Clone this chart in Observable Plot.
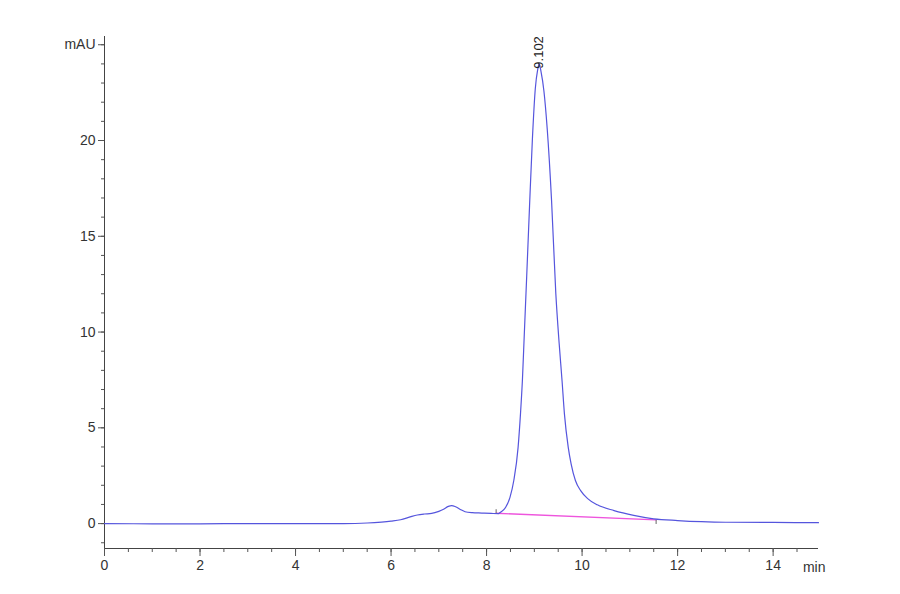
<!DOCTYPE html>
<html>
<head>
<meta charset="utf-8">
<script src="https://cdn.jsdelivr.net/npm/d3@7"></script>
<script src="https://cdn.jsdelivr.net/npm/@observablehq/plot@0.6"></script>
<style>
  html, body { margin: 0; padding: 0; background: #fff; }
  #chart svg { display: block; }
</style>
</head>
<body>
<div id="chart"></div>
<script>
// Chromatogram signal (time in min, absorbance in mAU)
const times = [0, 1, 2, 3, 4, 5, 5.5, 5.8, 6.0, 6.2, 6.4, 6.55, 6.7, 6.85, 7.0, 7.1, 7.2, 7.27, 7.35, 7.45, 7.55, 7.7, 7.9, 8.1, 8.25, 8.29, 8.4, 8.49, 8.57, 8.66, 8.71, 8.75, 8.79, 8.84, 8.9, 8.96, 9.02, 9.07, 9.1, 9.14, 9.2, 9.27, 9.36, 9.45, 9.52, 9.58, 9.63, 9.71, 9.77, 9.86, 9.97, 10.11, 10.32, 10.67, 11.08, 11.5, 12.0, 12.5, 13.0, 14.0, 14.95];
const values = [0.0, -0.01, -0.01, 0.0, 0.0, 0.0, 0.03, 0.08, 0.13, 0.2, 0.35, 0.45, 0.5, 0.53, 0.64, 0.75, 0.9, 0.94, 0.88, 0.74, 0.62, 0.57, 0.55, 0.53, 0.52, 0.59, 0.85, 1.37, 2.25, 3.98, 5.73, 7.47, 9.9, 12.9, 16.6, 20.1, 22.7, 23.7, 24.0, 23.6, 22.6, 20.6, 16.9, 12.0, 9.4, 7.47, 5.73, 3.98, 3.12, 2.25, 1.72, 1.32, 0.98, 0.68, 0.43, 0.25, 0.16, 0.1, 0.07, 0.06, 0.05];

// Integration baseline (start, end) and its marker ends
const baseTimes = [8.2, 11.55];
const baseValues = [0.54, 0.19];
const baseMarkEnds = [0.75, -0.02];

// Peak annotation
const peakTime = [9.102];
const peakLabel = ["9.102"];

// Axis ticks
const xMajor = [0, 2, 4, 6, 8, 10, 12, 14];
const yMajor = [0, 5, 10, 15, 20, 25];
const yUnit = "mAU";
const xUnit = "min";

const signal = times.map((t, i) => ({t, v: values[i]}));
const baseline = baseTimes.map((t, i) => ({t, v: baseValues[i], e: baseMarkEnds[i]}));
const xMinor = d3.range(0, 15, 0.5);
const yMinor = d3.range(-1, 26, 1);

const chart = Plot.plot({
  width: 900,
  height: 594,
  marginLeft: 104,
  marginRight: 82,
  marginTop: 36,
  marginBottom: 46,
  x: {domain: [0, 14.95], label: null},
  y: {domain: [-1.3, 25.43], label: null},
  style: {fontFamily: "'Liberation Sans Narrow', 'Liberation Sans', Arial, sans-serif", fontSize: "14px", color: "#333"},
  marks: [
    Plot.ruleX([0], {stroke: "#444", strokeWidth: 1}),
    Plot.ruleY([-1.3], {stroke: "#444", strokeWidth: 1}),
    Plot.axisY(yMinor, {tickSize: 3, tickFormat: () => "", stroke: "#555", label: null}),
    Plot.axisY(yMajor, {tickSize: 6, tickPadding: 3, stroke: "#555", fill: "#333", fontSize: 14,
      tickFormat: d => d === 25 ? yUnit : String(d), label: null}),
    Plot.axisX(xMinor, {tickSize: 4, tickFormat: () => "", stroke: "#555", label: null}),
    Plot.axisX(xMajor, {tickSize: 8, tickPadding: 4, stroke: "#555", fill: "#333", fontSize: 14, label: null}),
    Plot.text([xUnit], {x: 14.86, y: -2.3, text: d => d, fill: "#333", fontSize: 14, clip: false}),
    Plot.line(baseline, {x: "t", y: "v", stroke: "#ee55dd", strokeWidth: 1.3}),
    Plot.link(baseline, {x1: "t", x2: "t", y1: "v", y2: "e", stroke: "#666", strokeWidth: 1}),
    Plot.line(signal, {x: "t", y: "v", stroke: "#5555dd", strokeWidth: 1.2, curve: "monotone-x"}),
    Plot.text(peakTime, {x: d => d, y: 23.75, text: (d, i) => peakLabel[i], rotate: -90, textAnchor: "start", lineAnchor: "middle", fontSize: 13, fill: "#222"})
  ]
});
document.getElementById("chart").append(chart);
</script>
</body>
</html>
